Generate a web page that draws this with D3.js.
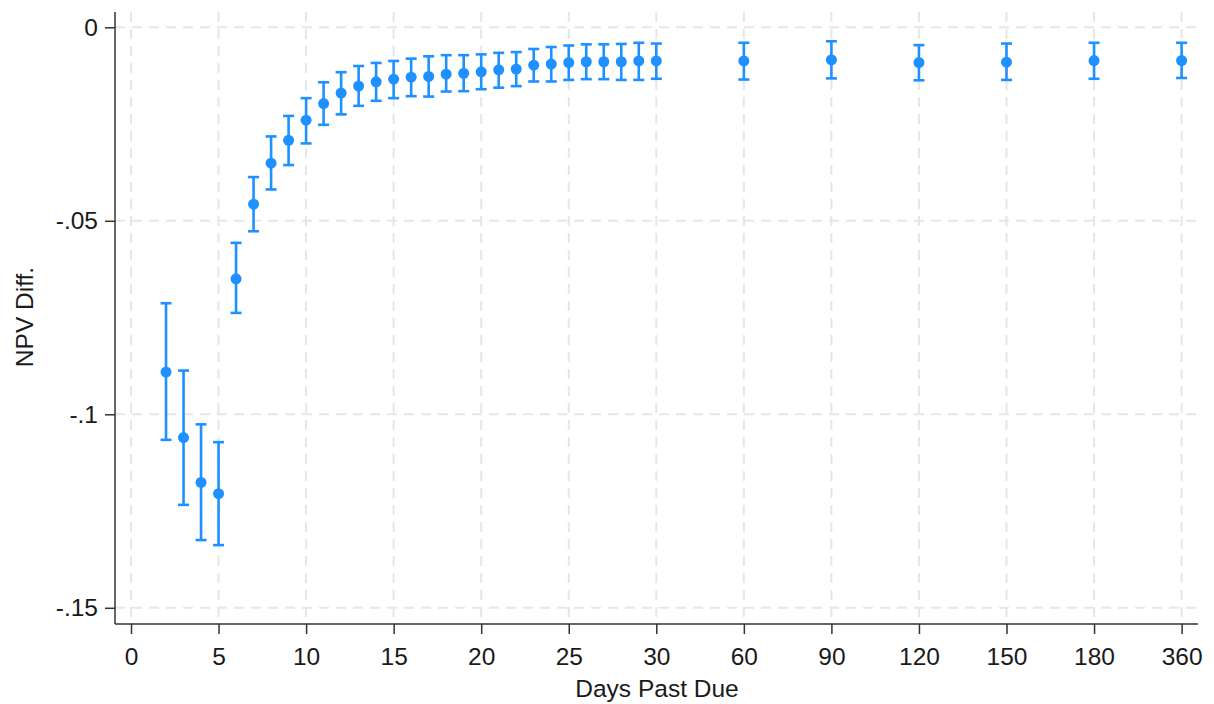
<!DOCTYPE html>
<html>
<head>
<meta charset="utf-8">
<script src="https://cdn.jsdelivr.net/npm/d3@7"></script>
<style>
  body { margin: 0; background: #fff; }
  svg text { font-family: "Liberation Sans", Arial, sans-serif; fill: #1a1a1a; }
  .grid line { stroke: #e6e6e6; stroke-width: 2; stroke-dasharray: 10 7; }
  .axis .domain { display: none; }
  .axis line { stroke: #333; stroke-width: 1.5; }
  .axis text { font-size: 24.5px; }
  .frame { stroke: #333; stroke-width: 1.5; }
  .bar { stroke: #1e90ff; stroke-width: 2.6; }
  .dot { fill: #1e90ff; }
</style>
</head>
<body>
<div id="chart"></div>
<script>
// days past due, point estimate, and upper / lower confidence bounds
const days = [2, 3, 4, 5, 6, 7, 8, 9, 10, 11, 12, 13, 14, 15, 16, 17, 18, 19, 20,
              21, 22, 23, 24, 25, 26, 27, 28, 29, 30, 60, 90, 120, 150, 180, 360];
const est = [-0.0891, -0.1060, -0.1176, -0.1205, -0.0650, -0.0457, -0.0351, -0.0292, -0.0240,
             -0.0197, -0.0170, -0.0152, -0.0141, -0.0134, -0.0129, -0.0127, -0.0121, -0.0119,
             -0.0115, -0.0110, -0.0108, -0.0098, -0.0095, -0.0091, -0.0089, -0.0089, -0.0089,
             -0.0087, -0.0087, -0.0087, -0.0084, -0.0091, -0.0090, -0.0086, -0.0086];
const hi = [-0.0713, -0.0887, -0.1026, -0.1072, -0.0557, -0.0387, -0.0282, -0.0229, -0.0183,
            -0.0142, -0.0116, -0.0100, -0.0092, -0.0087, -0.0081, -0.0075, -0.0072, -0.0072,
            -0.0070, -0.0066, -0.0064, -0.0056, -0.0051, -0.0047, -0.0044, -0.0044, -0.0043,
            -0.0040, -0.0042, -0.0040, -0.0036, -0.0046, -0.0042, -0.0040, -0.0040];
const lo = [-0.1066, -0.1234, -0.1325, -0.1338, -0.0738, -0.0527, -0.0419, -0.0356, -0.0300,
            -0.0252, -0.0225, -0.0203, -0.0190, -0.0183, -0.0178, -0.0179, -0.0166, -0.0165,
            -0.0160, -0.0156, -0.0152, -0.0140, -0.0140, -0.0136, -0.0134, -0.0134, -0.0136,
            -0.0136, -0.0133, -0.0135, -0.0132, -0.0137, -0.0136, -0.0133, -0.0131];

const xTicks = [0, 5, 10, 15, 20, 25, 30, 60, 90, 120, 150, 180, 360];
const yTicks = [0, -0.05, -0.1, -0.15];
const yTickLabels = ['0', '-.05', '-.1', '-.15'];

const width = 1214, height = 704;
const plot = { left: 115, right: 1198, top: 12, bottom: 624 };

const svg = d3.select('#chart').append('svg')
    .attr('width', width)
    .attr('height', height);

// x axis is evenly spaced per tick, so piecewise-linear between tick values
const xStep = 87.55, xStart = 131;
const xScale = d3.scaleLinear()
    .domain(xTicks)
    .range(xTicks.map((d, i) => xStart + i * xStep));

const yScale = d3.scaleLinear()
    .domain([-0.15, 0])
    .range([607.8, 27.3]);

// grid
svg.append('g').attr('class', 'grid')
    .selectAll('line')
    .data(yTicks)
    .join('line')
    .attr('x1', plot.left).attr('x2', plot.right)
    .attr('y1', d => yScale(d)).attr('y2', d => yScale(d));

svg.append('g').attr('class', 'grid')
    .selectAll('line')
    .data(xTicks)
    .join('line')
    .attr('x1', d => xScale(d)).attr('x2', d => xScale(d))
    .attr('y1', plot.top).attr('y2', plot.bottom);

// axes
svg.append('g')
    .attr('class', 'axis')
    .attr('transform', `translate(${plot.left}, 0)`)
    .call(d3.axisLeft(yScale).tickValues(yTicks).tickSize(10).tickPadding(7)
        .tickFormat((d, i) => yTickLabels[i]));

svg.append('g')
    .attr('class', 'axis')
    .attr('transform', `translate(0, ${plot.bottom})`)
    .call(d3.axisBottom(xScale).tickValues(xTicks).tickSize(10).tickPadding(14)
        .tickFormat(d3.format('d')));

svg.append('line').attr('class', 'frame')
    .attr('x1', plot.left).attr('x2', plot.left)
    .attr('y1', plot.top).attr('y2', plot.bottom);
svg.append('line').attr('class', 'frame')
    .attr('x1', plot.left).attr('x2', plot.right)
    .attr('y1', plot.bottom).attr('y2', plot.bottom);

// axis titles
svg.append('text')
    .attr('x', 657)
    .attr('y', 697)
    .attr('text-anchor', 'middle')
    .style('font-size', '24.5px')
    .text('Days Past Due');

svg.append('text')
    .attr('transform', 'translate(33, 317) rotate(-90)')
    .attr('text-anchor', 'middle')
    .style('font-size', '24.5px')
    .text('NPV Diff.');

// error bars and points
const data = days.map((d, i) => ({ day: d, est: est[i], hi: hi[i], lo: lo[i] }));
const cap = 5.5;

const bars = svg.append('g');
bars.selectAll('line.bar-v')
    .data(data)
    .join('line')
    .attr('class', 'bar bar-v')
    .attr('x1', d => xScale(d.day)).attr('x2', d => xScale(d.day))
    .attr('y1', d => yScale(d.hi)).attr('y2', d => yScale(d.lo));

bars.selectAll('line.cap-hi')
    .data(data)
    .join('line')
    .attr('class', 'bar cap-hi')
    .attr('x1', d => xScale(d.day) - cap).attr('x2', d => xScale(d.day) + cap)
    .attr('y1', d => yScale(d.hi)).attr('y2', d => yScale(d.hi));

bars.selectAll('line.cap-lo')
    .data(data)
    .join('line')
    .attr('class', 'bar cap-lo')
    .attr('x1', d => xScale(d.day) - cap).attr('x2', d => xScale(d.day) + cap)
    .attr('y1', d => yScale(d.lo)).attr('y2', d => yScale(d.lo));

svg.append('g')
    .selectAll('circle')
    .data(data)
    .join('circle')
    .attr('class', 'dot')
    .attr('cx', d => xScale(d.day))
    .attr('cy', d => yScale(d.est))
    .attr('r', 5.5);
</script>
</body>
</html>
